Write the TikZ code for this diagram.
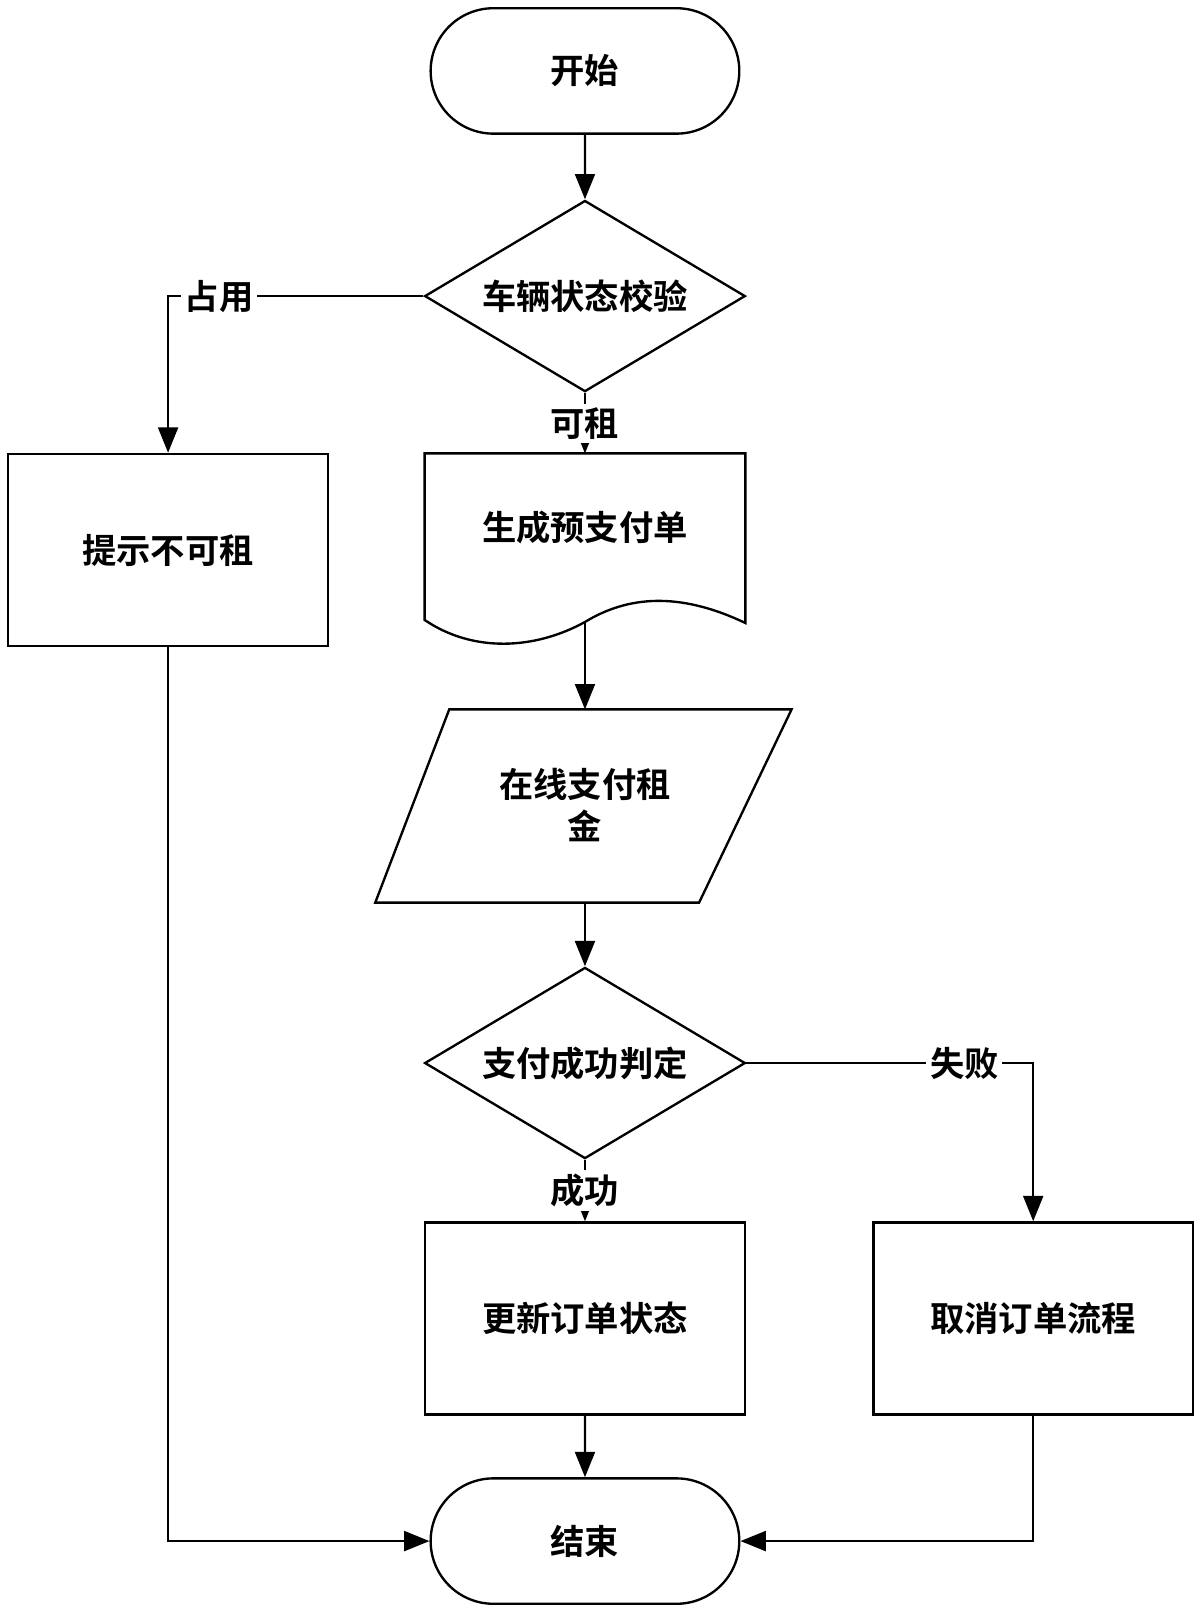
\documentclass[tikz,border=0pt]{standalone}
\usepackage{fontspec}
\newfontfamily\cjk{Noto Sans CJK SC}[BoldFont={Noto Sans CJK SC Bold}]
\usetikzlibrary{shapes.geometric,shapes.misc,arrows.meta}
\begin{document}
\begin{tikzpicture}[x=0.02cm,y=-0.02cm,
  line width=1.3pt,
  txt/.style={font=\cjk\bfseries\fontsize{19}{23}\selectfont,align=center},
  lbl/.style={txt,fill=white,inner sep=2pt},
  arr/.style={-{Triangle[length=14pt,width=11pt]}},
  box/.style={draw,minimum width=6.22cm,minimum height=3.74cm,txt},
  term/.style={draw,rounded rectangle,minimum width=6.24cm,minimum height=2.44cm,txt},
  dia/.style={draw,diamond,aspect=1.67,minimum width=6.24cm,minimum height=3.72cm,inner sep=0pt,txt}]
\useasboundingbox (0,0) rectangle (1168,1568);
\node[term] (start) at (569,69) {开始};
\node[dia] (d1) at (569,288) {车辆状态校验};
\node[box] (warn) at (163.5,535) {提示不可租};
\draw (413,441) -- (725,441) -- (725,606) .. controls (660,575) and (610,580) .. (569,605) .. controls (520,632) and (460,635) .. (413,603) -- cycle;
\node[txt] (doc) at (569,513) {生成预支付单};
\coordinate (doctop) at (569,441);
\coordinate (docbot) at (569,605);
\draw (437,690) -- (770,690) -- (680,878) -- (365,878) -- cycle;
\node[txt] (pay) at (569,783) {在线支付租\\金};
\coordinate (paytop) at (569,690);
\coordinate (paybot) at (569,878);
\node[dia] (d2) at (569,1034) {支付成功判定};
\node[box] (upd) at (569,1282.5) {更新订单状态};
\node[box] (cancel) at (1005,1282.5) {取消订单流程};
\node[term] (end) at (569,1499) {结束};
\draw[arr] (start) -- (d1);
\draw[arr] (d1.west) -| node[lbl,pos=0.4] {占用} (warn.north);
\draw[arr] (d1.south) -- node[lbl,pos=0.5] {可租} (doctop);
\draw[arr] (docbot) -- (paytop);
\draw[arr] (paybot) -- (d2.north);
\draw[arr] (d2.east) -| node[lbl,pos=0.38] {失败} (cancel.north);
\draw[arr] (d2.south) -- node[lbl,pos=0.5] {成功} (upd.north);
\draw[arr] (upd) -- (end);
\draw[arr] (warn.south) |- (end.west);
\draw[arr] (cancel.south) |- (end.east);
\end{tikzpicture}
\end{document}
